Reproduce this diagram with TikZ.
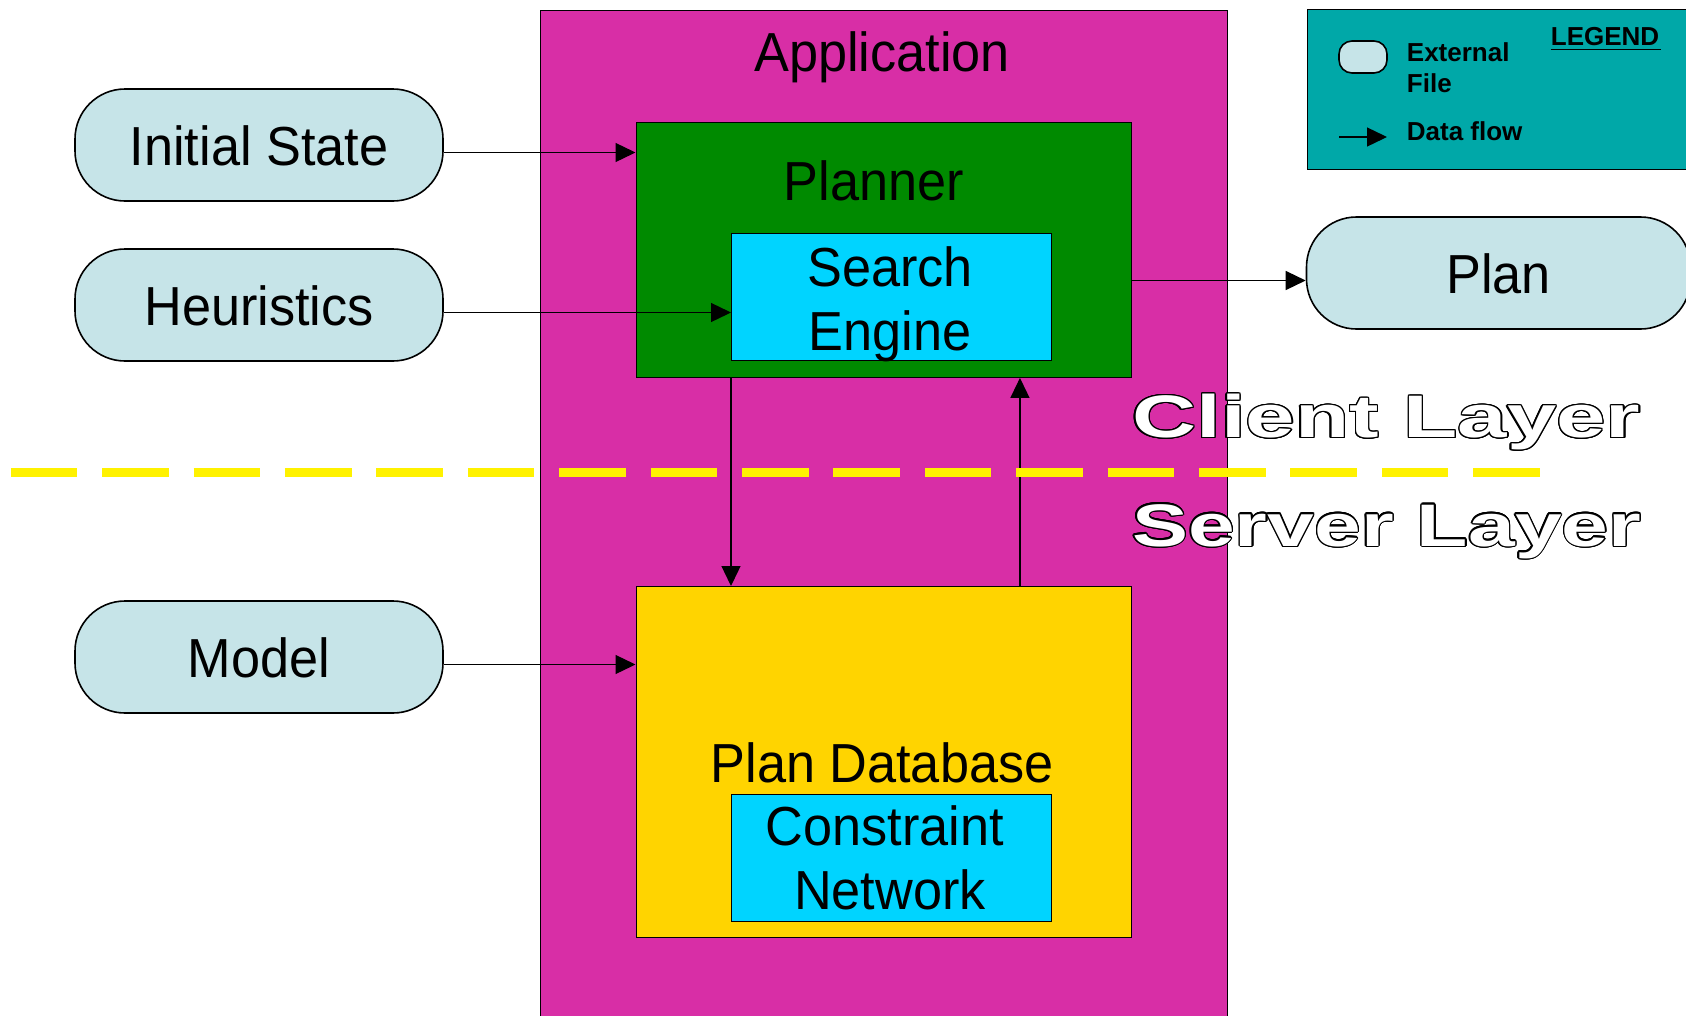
\documentclass[tikz,border=0pt]{standalone}
\usepackage{fontspec}
\usepackage{graphicx}
\setmainfont{Liberation Sans}[FakeStretch=0.95]
\newfontfamily\plainsans{Liberation Sans}
\usetikzlibrary{arrows.meta}

\definecolor{appmagenta}{RGB}{216,46,166}
\definecolor{plannergreen}{RGB}{0,138,0}
\definecolor{enginecyan}{RGB}{0,212,255}
\definecolor{dbgold}{RGB}{255,212,0}
\definecolor{filefill}{RGB}{198,228,232}
\definecolor{legendteal}{RGB}{0,168,168}

\begin{document}
\begin{tikzpicture}[x=1pt,y=-1pt,
  box/.style={draw=black, line width=1.4pt, inner sep=0pt, anchor=north west},
  pill/.style={draw=black, line width=1.6pt, fill=filefill, rounded corners=50pt,
    minimum width=368pt, minimum height=112pt, inner sep=0pt,
    font=\fontsize{55}{64.5}\selectfont, text height=40pt, text depth=0pt},
  lbl/.style={anchor=base, inner sep=0pt, font=\fontsize{55}{64.5}\selectfont},
  flow/.style={draw=black, line width=1.3pt, -{Triangle[length=20pt,width=19pt]}},
  layertext/.style={anchor=base west, inner sep=0pt, font=\plainsans\bfseries\fontsize{60}{60}\selectfont},
  legtext/.style={anchor=base west, inner sep=0pt, font=\plainsans\bfseries\fontsize{26}{31}\selectfont}]

\clip (0,0) rectangle (1686,1015);
\fill[white] (0,0) rectangle (1686,1015);

% application frame and its components
\node[box, fill=appmagenta, minimum width=687pt, minimum height=1040pt] (app) at (540,10) {};
\node[lbl] (applbl) at (882,71) {Application};

\node[box, fill=plannergreen, minimum width=495.5pt, minimum height=255pt] (planner) at (635.5,121.5) {};
\node[lbl] (plannerlbl) at (874,200) {Planner};
\node[box, fill=enginecyan, minimum width=320pt, minimum height=127pt] (se) at (731,233) {};
\node[lbl] (selbl1) at (890,286) {Search};
\node[lbl] (selbl2) at (890,350.5) {Engine};

\node[box, fill=dbgold, minimum width=495.5pt, minimum height=351pt] (pdb) at (635.5,586) {};
\node[lbl] (pdblbl) at (882,782) {Plan Database};
\node[box, fill=enginecyan, minimum width=320pt, minimum height=127pt] (cn) at (731,793.5) {};
\node[lbl] (cnlbl1) at (885,845) {Constraint};
\node[lbl] (cnlbl2) at (890,909.7) {Network};

% external files
\node[pill] (init) at (259,145) {Initial State};
\node[pill] (heur) at (259,305) {Heuristics};
\node[pill] (model) at (259,657) {Model};
\node[pill, minimum width=384pt] (plan) at (1498.5,273) {Plan};

% data flow
\draw[flow] ([yshift=-7.5pt]init.east) -- ([yshift=-7.5pt]init.east -| planner.west);
\draw[flow] ([yshift=-7.5pt]heur.east) -- ([yshift=-7.5pt]heur.east -| se.west);
\draw[flow] ([yshift=-7.5pt]model.east) -- ([yshift=-7.5pt]model.east -| pdb.west);
\draw[flow] ([yshift=-7.5pt]plan.west -| planner.east) -- ([yshift=-7.5pt]plan.west);
\draw[flow] (se.west |- planner.south) -- (se.west |- pdb.north);
\draw[flow] ([xshift=136pt]pdb.north) -- ([xshift=136pt]pdb.north |- planner.south);

% client / server divide
\coordinate (divL) at (10.75,472);
\coordinate (divR) at (1540,472);
\draw[yellow, line width=9pt, dash pattern=on 66.7pt off 24.7pt] (divL) -- (divR);

\coordinate (clientpos) at (1132,437.6);
\coordinate (serverpos) at (1132,546);
\foreach \a in {0,20,...,340} {
  \node[layertext, text=black, shift={(\a:1.3pt)}] at (clientpos) {\scalebox{1.48}[1]{Client Layer}};
  \node[layertext, text=black, shift={(\a:1.3pt)}] at (serverpos) {\scalebox{1.40}[1]{Server Layer}};
}
\node[layertext, text=white] (client) at (clientpos) {\scalebox{1.48}[1]{Client Layer}};
\node[layertext, text=white] (server) at (serverpos) {\scalebox{1.40}[1]{Server Layer}};

% legend
\node[box, fill=legendteal, minimum width=420pt, minimum height=160pt] (legend) at (1306.7,9) {};
\node[legtext] (legtitle) at (1550.7,45) {LEGEND};
\draw[line width=1.4pt] ([yshift=-4.3pt]legtitle.base west) -- ([yshift=-4.3pt,xshift=2pt]legtitle.base east);
\node[draw=black, line width=1.6pt, fill=filefill, rounded corners=13pt,
  minimum width=48pt, minimum height=32pt, inner sep=0pt] (legfile) at (1363,57) {};
\node[legtext] (legext) at (1406.7,61) {External};
\node[legtext] (legfilelbl) at (1406.7,92.3) {File};
\coordinate (legA) at (1339,137);
\coordinate (legB) at (1387,137);
\draw[flow] (legA) -- (legB);
\node[legtext] (legflow) at (1406.7,140) {Data flow};
\end{tikzpicture}
\end{document}
